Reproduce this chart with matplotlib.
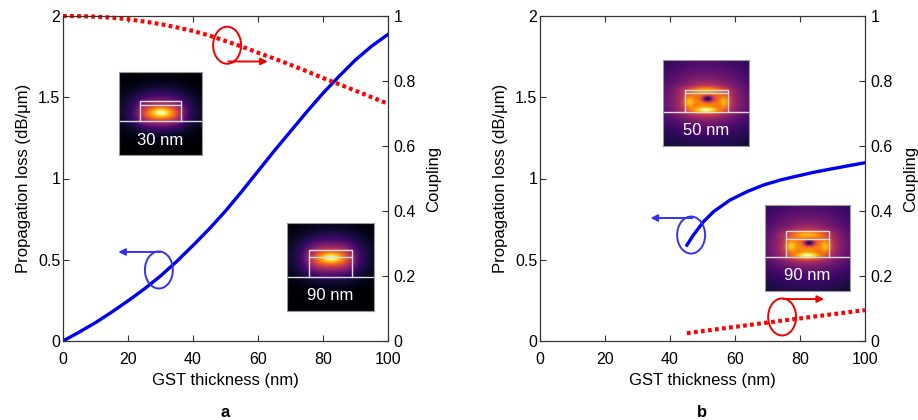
import numpy as np
import matplotlib.pyplot as plt
from matplotlib.patches import Ellipse

plt.rcParams['font.family'] = ['Liberation Sans', 'DejaVu Sans']
plt.rcParams['font.size'] = 11.5

# panel a
a_x = [0, 5, 10, 15, 20, 25, 30, 35, 40, 45, 50, 55, 60, 65, 70, 75, 80, 85, 90, 95, 100]
a_loss = [0, 0.055, 0.113, 0.178, 0.247, 0.32, 0.40, 0.49, 0.588, 0.69, 0.80, 0.92,
          1.045, 1.17, 1.29, 1.41, 1.525, 1.63, 1.73, 1.815, 1.887]
a_coup = [1.0, 0.9995, 0.998, 0.995, 0.99, 0.983, 0.975, 0.965, 0.954, 0.94, 0.923,
          0.906, 0.887, 0.869, 0.85, 0.83, 0.809, 0.79, 0.77, 0.75, 0.73]

# panel b
b_x = [45.2, 47.2, 50.3, 53.4, 58.5, 63.7, 68.8, 74, 79.1, 84.2, 89.4, 94.5, 100]
b_loss = [0.59, 0.652, 0.734, 0.796, 0.868, 0.919, 0.96, 0.991, 1.015, 1.038,
          1.058, 1.077, 1.097]
b_cx = [45.2, 74, 100]
b_coup = [0.024, 0.062, 0.095]

W, H = 918, 420
fig = plt.figure(figsize=(W / 100, H / 100), dpi=100)


def frac(x0, y0, x1, y1):
    return [x0 / W, 1 - y1 / H, (x1 - x0) / W, (y1 - y0) / H]


def setup(ax):
    ax.set_xlim(0, 100)
    ax.set_ylim(0, 2)
    ax.set_xticks(range(0, 101, 20))
    ax.set_yticks([0, 0.5, 1, 1.5, 2])
    ax.set_yticklabels(['0', '0.5', '1', '1.5', '2'])
    ax.tick_params(direction='in', top=True, length=4, color='#333333')
    ax.tick_params(axis='x', pad=8)
    ax.tick_params(axis='y', pad=2)
    for s in ax.spines.values():
        s.set_color('#333333')
    ax.set_xlabel('GST thickness (nm)', fontsize=12, labelpad=4)
    ax.set_ylabel('Propagation loss (dB/μm)', fontsize=12, labelpad=5)
    ax2 = ax.twinx()
    ax2.set_ylim(0, 1)
    ax2.set_yticks([0, 0.2, 0.4, 0.6, 0.8, 1])
    ax2.set_yticklabels(['0', '0.2', '0.4', '0.6', '0.8', '1'])
    ax2.tick_params(direction='in', length=4, color='#333333', pad=4)
    for s in ax2.spines.values():
        s.set_color('#333333')
    ax2.set_ylabel('Coupling', fontsize=12, labelpad=7)
    return ax2


def g(x, y, cx, cy, sx, sy, p=2):
    return np.exp(-np.abs((x - cx) / sx) ** p - ((y - cy) / sy) ** 2)


def mode_image(kind, sub, cy):
    y, x = np.mgrid[0:1:120j, 0:1:120j]
    if kind == 0:
        f = (0.45 * g(x, y, 0.51, cy, 0.12, 0.06)
             + 0.45 * g(x, y, 0.5, cy - 0.01, 0.26, 0.12, 4)
             + 0.25 * g(x, y, 0.5, cy + 0.01, 0.34, 0.22))
        f = np.where(y < sub, f * np.exp(-(sub - y) * 3), f)
        f = (f / f.max()) ** 0.7
    else:
        f = (0.25 * g(x, y, 0.5, 0.5, 0.7, 0.6)
             + 0.5 * g(x, y, 0.5, cy - 0.03, 0.28, 0.18)
             + 0.5 * g(x, y, 0.5, sub + 0.02, 0.15, 0.035)
             + 0.3 * g(x, y, 0.5, cy + 0.1, 0.22, 0.04)
             + 0.35 * g(x, y, 0.3, cy - 0.04, 0.06, 0.08)
             + 0.35 * g(x, y, 0.72, cy - 0.04, 0.06, 0.08))
        f = f * (1 - 0.97 * g(x, y, 0.52, cy, 0.07, 0.04))
        f = np.where(y < sub, f * np.exp(-(sub - y) * 2), f)
        f = (f / f.max()) ** 0.7
    return f


def inset(box, kind, label, top, mid, sub, cy):
    axi = fig.add_axes(frac(*box))
    axi.imshow(mode_image(kind, sub, cy), cmap='inferno', extent=[0, 1, 0, 1],
               origin='lower', aspect='auto', vmin=0, vmax=1.0)
    lc = '#dcdcdc'
    axi.plot([0, 1], [sub, sub], color=lc, lw=1)
    axi.plot([0.25, 0.25, 0.75, 0.75], [sub, top, top, sub], color=lc, lw=1)
    axi.plot([0.25, 0.75], [mid, mid], color=lc, lw=1)
    axi.text(0.5, 0.18, label, color='white', ha='center', va='center', fontsize=12)
    axi.set_xlim(0, 1)
    axi.set_ylim(0, 1)
    axi.set_xticks([])
    axi.set_yticks([])
    for s in axi.spines.values():
        s.set_color('#999999')


def marker(ax, cx, cy, ax_to, ay, color):
    ax.add_patch(Ellipse((cx, cy), 8.6, 0.228, fill=False, ec=color, lw=1.4,
                         clip_on=False, zorder=5))
    ax.annotate('', xy=(ax_to, ay), xytext=(cx + 0.4, ay),
                arrowprops=dict(arrowstyle='-|>', color=color, lw=1.4,
                                mutation_scale=10, shrinkA=0, shrinkB=0))


# panel a
ax = fig.add_axes(frac(63, 16, 388, 341))
ax2 = setup(ax)
ax.plot(a_x, a_loss, color='#0000ee', lw=2.4, zorder=4)
ax2.plot(a_x, a_coup, color='#ff0000', lw=3, dashes=(0.9, 0.8), clip_on=False)
marker(ax, 50.5, 1.82, 63, 1.72, '#ee0000')
marker(ax, 29.5, 0.437, 17, 0.548, '#3333ee')
ax.text(50, -0.44, 'a', ha='center', va='center', fontsize=12, fontweight='bold')
inset((119, 72, 202, 155), 0, '30 nm', 0.645, 0.605, 0.41, 0.51)
inset((287, 223, 374, 311), 0, '90 nm', 0.69, 0.615, 0.385, 0.6)

# panel b
bx = fig.add_axes(frac(540, 16, 865, 341))
bx2 = setup(bx)
bx.plot(b_x, b_loss, color='#0000ee', lw=2.4, zorder=4)
bx2.plot(b_cx, b_coup, color='#ff0000', lw=3, dashes=(0.9, 0.8), clip_on=False)
marker(bx, 46.5, 0.652, 34, 0.757, '#3333ee')
marker(bx, 74.5, 0.148, 87.4, 0.258, '#ee0000')
bx.text(50, -0.44, 'b', ha='center', va='center', fontsize=12, fontweight='bold')
inset((663, 60, 749, 146), 1, '50 nm', 0.654, 0.62, 0.396, 0.55)
inset((765, 205, 850, 291), 1, '90 nm', 0.70, 0.60, 0.39, 0.56)

fig.savefig('out.png', dpi=100)
